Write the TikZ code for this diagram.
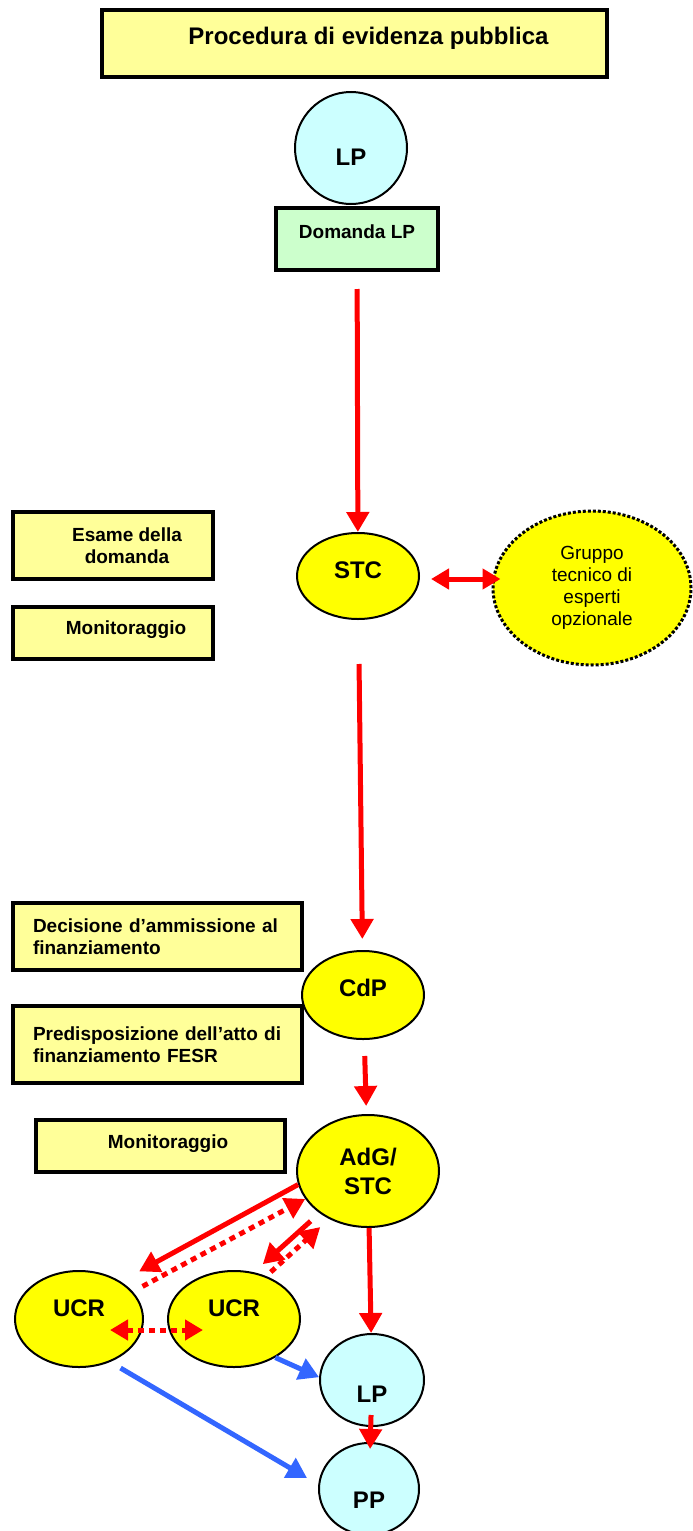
\documentclass[tikz,border=0pt]{standalone}
\usepackage{fontspec}
\setmainfont{Liberation Sans}
\usetikzlibrary{shapes.geometric,arrows.meta}

\definecolor{paleyellow}{HTML}{FFFF99}
\definecolor{palegreen}{HTML}{CCFFCC}
\definecolor{palecyan}{HTML}{CCFFFF}
\definecolor{brightyellow}{HTML}{FFFF00}
\definecolor{arrowred}{HTML}{FF0000}
\definecolor{arrowblue}{HTML}{3366FF}

\newcommand{\nudge}[1]{\hspace*{#1}}

\tikzset{
  panel/.style={draw,line width=2pt,fill=paleyellow,inner sep=0pt,align=center,
    font=\fontsize{9.5}{11}\selectfont\bfseries},
  bubble/.style={ellipse,draw,line width=1pt,fill=brightyellow,inner sep=0pt,align=center,
    font=\fontsize{12}{14.5}\selectfont\bfseries},
  actor/.style={bubble,fill=palecyan},
  flow/.style={color=arrowred,line width=2.5pt,-{Triangle[width=11pt,length=10pt]}},
  twoway/.style={flow,{Triangle[width=10pt,length=9pt]}-{Triangle[width=10pt,length=9pt]}},
  dotflow/.style={dash pattern=on 3pt off 2.5pt},
  blueflow/.style={flow,color=arrowblue}
}

\begin{document}
\begin{tikzpicture}[x=0.5pt,y=-0.5pt]
  \useasboundingbox (0,0) rectangle (692,1531);

  % boxes on the left and on top
  \node[panel,minimum width=252.5pt,minimum height=33.5pt,font=\fontsize{12}{14}\selectfont\bfseries,
    text depth=8pt](title) at (354.5,43.5) {\nudge{14pt}Procedura di evidenza pubblica};
  \node[panel,fill=palegreen,minimum width=81pt,minimum height=31pt,text depth=7pt](domanda)
    at (357,239) {Domanda LP};
  \node[panel,minimum width=100pt,minimum height=33.5pt](esame) at (113,545.5)
    {\nudge{14pt}Esame della\\\nudge{14pt}domanda};
  \node[panel,minimum width=100pt,minimum height=26pt,text depth=5pt](monit_a) at (113,633)
    {\nudge{13pt}Monitoraggio};
  \node[panel,minimum width=144.5pt,minimum height=33.5pt,text width=124.5pt,align=left](decisione)
    at (157.5,936.5) {Decisione d'ammissione al\\finanziamento};
  \node[panel,minimum width=144.5pt,minimum height=38.5pt,text width=124.5pt,align=left](predisp)
    at (157.5,1044.5) {Predisposizione dell'atto di\\finanziamento FESR};
  \node[panel,minimum width=124.5pt,minimum height=26pt,text depth=4pt](monit_b) at (160.5,1146)
    {\nudge{7.5pt}Monitoraggio};

  % actors
  \node[actor,minimum width=56pt,minimum height=56pt,text height=17.6pt](lp_a) at (351,148) {LP};
  \node[bubble,minimum width=61pt,minimum height=43pt,text depth=6pt](stc) at (358,576) {STC};
  \node[bubble,minimum width=99pt,minimum height=77pt,line width=1.5pt,densely dotted,
    font=\fontsize{9.5}{11}\selectfont](gruppo) at (592,588) {Gruppo\\tecnico di\\esperti\\opzionale};
  \node[bubble,minimum width=61pt,minimum height=44pt,text depth=7pt](cdp) at (363,995) {CdP};
  \node[bubble,minimum width=71pt,minimum height=56pt](adg) at (368,1171) {AdG/\\STC};
  \node[bubble,minimum width=64pt,minimum height=48pt,text depth=11pt](ucr_a) at (79,1319) {UCR};
  \node[bubble,minimum width=66pt,minimum height=48pt,text depth=11pt](ucr_b) at (234,1319) {UCR};
  \node[actor,minimum width=52pt,minimum height=46pt,text height=22.6pt](lp_b) at (372,1380) {LP};
  \node[actor,minimum width=50pt,minimum height=46pt,text height=19.6pt](pp) at (369,1489) {PP};

  % arrows
  \path[flow]
    (domanda) edge[shorten <=8.5pt] (stc)
    (stc) edge[shorten <=22pt,shorten >=5.5pt] (cdp)
    (cdp) edge[shorten <=8pt,shorten >=4pt] (adg)
    (adg) edge (lp_b)
    (lp_b) edge[shorten <=-6pt,shorten >=-3.5pt] (pp)
    (adg.191) edge[shorten >=10.5pt] (ucr_a.42)
    (adg.221) edge[shorten <=6pt,shorten >=6pt] (ucr_b.67);
  \path[flow]
    (ucr_a.27) edge[dotflow,shorten <=5.5pt] (adg.204)
    (ucr_b.53) edge[dotflow,shorten <=3pt,shorten >=6pt] (adg.231);
  \path[twoway]
    ([yshift=-1.5pt]stc.east) edge[shorten <=5.5pt,shorten >=-4.5pt] ([yshift=4.5pt]gruppo.west);
  \path[twoway]
    ([yshift=-5.5pt]ucr_a.east) edge[dotflow,shorten <=-17pt,shorten >=-18pt] ([yshift=-5.5pt]ucr_b.west);
  \path[blueflow]
    (ucr_b.317) edge (lp_b.177)
    (ucr_a.306) edge[shorten <=6pt,shorten >=6.5pt] (pp.175);
\end{tikzpicture}
\end{document}
